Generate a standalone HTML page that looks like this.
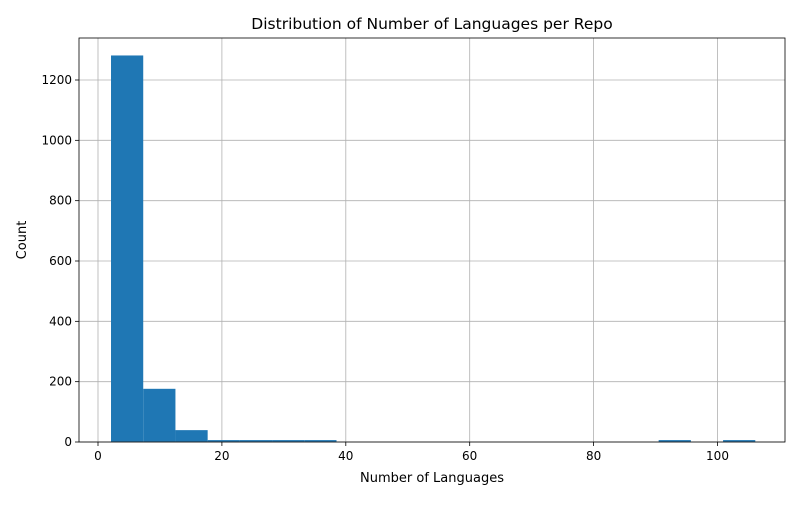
<!DOCTYPE html>
<html><head><meta charset="utf-8"><style>
body{margin:0;background:#fff;font-family:"Liberation Sans","DejaVu Sans",sans-serif}
svg text{font-family:"DejaVu Sans","Liberation Sans",sans-serif}
</style></head><body>
<svg id="chart" width="800" height="500" xmlns="http://www.w3.org/2000/svg">
<rect width="800" height="500" fill="#fff"/>
<g id="grid"></g><g id="bars"></g><g id="axes"></g>
<text x="432" y="29" text-anchor="middle" font-size="15.5">Distribution of Number of Languages per Repo</text>
<text x="432" y="482" text-anchor="middle" font-size="13">Number of Languages</text>
<text x="26" y="240" text-anchor="middle" font-size="13" transform="rotate(-90 26 240)">Count</text>
</svg>
<script>
const binStart = 2.1;
const binEnd = 106.1;
const counts = [1280,175,38,1,1,1,1,0,0,0,0,0,0,0,0,0,0,1,0,1];
const xTicks = [0,20,40,60,80,100];
const yTicks = [0,200,400,600,800,1000,1200];
const L=79,R=785,T=38,B=442;
const x=v=>98+(v-0)*(717.5-98)/100;
const y=v=>B-v*(B-80)/1200;
const NS="http://www.w3.org/2000/svg";
function mk(t,a,p){const e=document.createElementNS(NS,t);for(const k in a)e.setAttribute(k,a[k]);p.appendChild(e);return e;}
const g=document.getElementById('grid'),b=document.getElementById('bars'),ax=document.getElementById('axes');
xTicks.forEach(v=>{
 const l=mk('line',{x1:x(v),x2:x(v),y1:T,y2:B,stroke:'#b0b0b0','stroke-width':0.8},g);
 
 
 mk('line',{x1:x(v),x2:x(v),y1:B,y2:B+4,stroke:'#000','stroke-width':0.8},ax);
 const t=mk('text',{x:x(v),y:B+18,'text-anchor':'middle','font-size':12},ax);t.textContent=v;
 
 
});
yTicks.forEach(v=>{
 const l=mk('line',{x1:L,x2:R,y1:y(v),y2:y(v),stroke:'#b0b0b0','stroke-width':0.8},g);
 
 
 mk('line',{x1:L-4,x2:L,y1:y(v),y2:y(v),stroke:'#000','stroke-width':0.8},ax);
 const t=mk('text',{x:L-7,y:y(v)+4,'text-anchor':'end','font-size':12},ax);t.textContent=v;
 
 
});
const w=(binEnd-binStart)/counts.length;
counts.forEach((c,i)=>{
 if(c<=0)return;
 const x0=x(binStart+i*w),x1=x(binStart+(i+1)*w);
 const h=Math.max(B-y(c),1.5);
 const r=mk('rect',{x:x0,y:B-h-0.4,width:x1-x0,height:h,fill:'#1f77b4'},b);
 
 
});
mk('rect',{x:L,y:T,width:R-L,height:B-T,fill:'none',stroke:'#000','stroke-width':0.8},ax);
</script>
</body></html>
